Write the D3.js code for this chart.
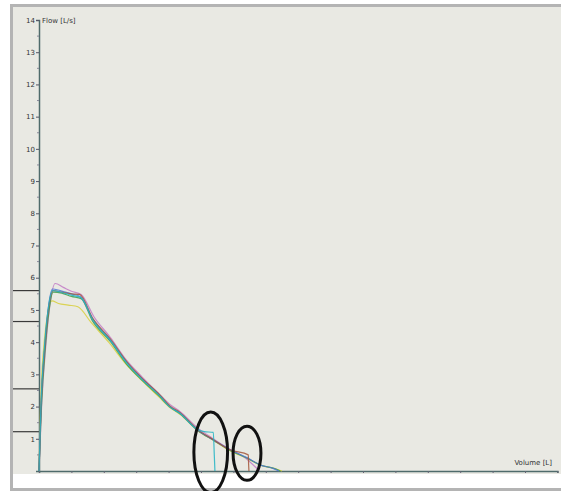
<!DOCTYPE html>
<html>
<head>
<meta charset="utf-8">
<script src="https://cdn.jsdelivr.net/npm/d3@7"></script>
<style>
body { margin: 0; background: #fff; }
svg { display: block; }
</style>
</head>
<body>
<script>
// flow-volume loops, volume [L] / flow [L/s]
var blueVol  = [0, 0.06, 0.19, 0.28, 0.42, 0.65, 1.0, 1.27, 1.67, 2.19, 2.72, 3.21, 3.73, 4.04, 4.35, 4.88, 5.37, 5.9, 6.45, 6.82, 7.22, 7.4];
var blueFlow = [0, 2.0, 4.0, 5.0, 5.65, 5.6, 5.5, 5.42, 4.7, 4.08, 3.36, 2.84, 2.34, 2.0, 1.8, 1.28, 0.97, 0.66, 0.4, 0.19, 0.08, 0];

var greenVol  = [0, 0.07, 0.2, 0.3, 0.44, 0.7, 1.0, 1.3, 1.65, 2.2, 2.7, 3.2, 3.7, 4.05, 4.35, 4.9, 5.4, 5.9, 6.4, 6.85, 7.25, 7.45];
var greenFlow = [0, 1.9, 3.9, 4.9, 5.55, 5.52, 5.42, 5.35, 4.66, 4.02, 3.32, 2.8, 2.33, 1.98, 1.78, 1.26, 0.95, 0.64, 0.41, 0.18, 0.08, 0];

var pinkVol  = [0, 0.08, 0.22, 0.33, 0.5, 0.75, 1.0, 1.3, 1.7, 2.2, 2.7, 3.2, 3.7, 4.05, 4.35, 4.9, 5.35, 5.85, 6.35, 6.8];
var pinkFlow = [0, 2.0, 4.0, 5.1, 5.82, 5.7, 5.58, 5.48, 4.78, 4.15, 3.44, 2.9, 2.4, 2.06, 1.85, 1.33, 1.02, 0.7, 0.42, 0];

var yellowVol  = [0, 0.05, 0.17, 0.27, 0.4, 0.6, 0.9, 1.2, 1.6, 2.15, 2.7, 3.2, 3.7, 4.05, 4.35, 4.9, 5.4, 5.9, 6.4, 6.9, 7.3, 7.5];
var yellowFlow = [0, 2.1, 4.1, 4.9, 5.28, 5.2, 5.15, 5.1, 4.62, 4.0, 3.3, 2.78, 2.3, 1.96, 1.76, 1.25, 0.94, 0.63, 0.4, 0.16, 0.07, 0];

var brownVol  = [0, 0.06, 0.19, 0.29, 0.44, 0.7, 1.0, 1.25, 1.67, 2.2, 2.72, 3.2, 3.73, 4.04, 4.35, 4.88, 5.37, 5.9, 6.46, 6.47, 6.48];
var brownFlow = [0, 1.9, 3.95, 5.0, 5.6, 5.55, 5.5, 5.48, 4.72, 4.1, 3.38, 2.86, 2.36, 2.02, 1.82, 1.3, 0.98, 0.66, 0.5, 0.2, 0];

var cyanVol  = [0, 0.06, 0.18, 0.28, 0.42, 0.68, 1.0, 1.3, 1.67, 2.2, 2.72, 3.2, 3.73, 4.04, 4.35, 4.88, 5.1, 5.38, 5.41, 5.43];
var cyanFlow = [0, 2.0, 4.0, 5.0, 5.6, 5.55, 5.46, 5.38, 4.68, 4.06, 3.34, 2.82, 2.33, 1.99, 1.79, 1.3, 1.22, 1.2, 0.5, 0];

var seriesNames  = ["yellow", "pink", "green", "blue", "brown", "cyan"];
var seriesColors = ["#d8cf3c", "#c27ac6", "#3c9f4a", "#4d74d4", "#a3563a", "#22b4c4"];
var seriesVols   = [yellowVol, pinkVol, greenVol, blueVol, brownVol, cyanVol];
var seriesFlows  = [yellowFlow, pinkFlow, greenFlow, blueFlow, brownFlow, cyanFlow];

var yTicks = [1, 2, 3, 4, 5, 6, 7, 8, 9, 10, 11, 12, 13, 14];
var markerFlows = [5.6, 4.64, 2.55, 1.22];

// ellipse marks [volume center, flow center, volume radius, flow radius]
var ringVol  = [5.3, 6.42];
var ringFlow = [0.58, 0.55];
var ringRv   = [0.52, 0.43];
var ringRf   = [1.25, 0.84];

var W = 561, H = 491;
var svg = d3.select("body")
   .append("svg")
   .attr("width", W)
   .attr("height", H);

// frame
svg.append("rect")
   .attr("x", 11.5).attr("y", 5.5)
   .attr("width", W).attr("height", 484)
   .style("fill", "#ffffff")
   .style("stroke", "#b4b4b4")
   .style("stroke-width", 3);
svg.append("rect")
   .attr("x", 13).attr("y", 7)
   .attr("width", W).attr("height", 467)
   .style("fill", "#e9e9e3");

var x = d3.scaleLinear().domain([0, 16]).range([39, 557.4]);
var y = d3.scaleLinear().domain([0, 14]).range([471, 20]);

// left marker lines
svg.selectAll("line.marker")
   .data(markerFlows)
   .enter()
   .append("line")
   .attr("class", "marker")
   .attr("x1", 13).attr("x2", x(0))
   .attr("y1", function(d) { return y(d) })
   .attr("y2", function(d) { return y(d) })
   .style("stroke", "#3a3a3a")
   .style("stroke-width", 1.2);

// y axis
var yAxis = d3.axisLeft(y)
   .tickValues(yTicks)
   .tickSize(3)
   .tickFormat(d3.format("d"));
var gy = svg.append("g")
   .attr("transform", "translate(" + x(0) + ",0)")
   .call(yAxis);
gy.select(".domain").style("stroke", "#4f6b6b").style("stroke-width", 1.5);
gy.selectAll(".tick line").style("stroke", "#556");
gy.selectAll(".tick text")
   .style("font-family", "DejaVu Sans, sans-serif")
   .style("font-size", "7px")
   .style("fill", "#333")
   .attr("x", -4);

var minorY = d3.range(0.5, 14, 1);
svg.selectAll("line.minory")
   .data(minorY)
   .enter()
   .append("line")
   .attr("x1", x(0) - 2).attr("x2", x(0))
   .attr("y1", function(d) { return y(d) })
   .attr("y2", function(d) { return y(d) })
   .style("stroke", "#889");

// x axis
var xAxis = d3.axisBottom(x)
   .ticks(16)
   .tickSize(2)
   .tickFormat("");
var gx = svg.append("g")
   .attr("transform", "translate(0," + y(0) + ")")
   .call(xAxis);
gx.select(".domain").style("stroke", "#4f6b6b").style("stroke-width", 1.5);
gx.selectAll(".tick line").style("stroke", "#667");

svg.append("text")
   .attr("x", x(0) + 3).attr("y", y(14) + 3)
   .text("Flow [L/s]")
   .style("font-family", "DejaVu Sans, sans-serif")
   .style("font-size", "7px")
   .style("fill", "#333");

svg.append("text")
   .attr("x", 552).attr("y", y(0) - 6)
   .attr("text-anchor", "end")
   .text("Volume [L]")
   .style("font-family", "DejaVu Sans, sans-serif")
   .style("font-size", "7px")
   .style("fill", "#333");

// curves
var line = d3.line()
   .x(function(d) { return x(d[0]) })
   .y(function(d) { return y(d[1]) })
   .curve(d3.curveMonotoneX);

seriesNames.forEach(function(name, i) {
   var pts = seriesVols[i].map(function(v, k) { return [v, seriesFlows[i][k]] });
   svg.append("path")
      .attr("id", "curve_" + name)
      .attr("d", line(pts))
      .style("fill", "none")
      .style("stroke", seriesColors[i])
      .style("stroke-width", 1.2)
      .style("stroke-opacity", 0.85)
      .style("stroke-linejoin", "round");
});

// rings
svg.selectAll("ellipse.ring")
   .data(ringVol)
   .enter()
   .append("ellipse")
   .attr("cx", function(d) { return x(d) })
   .attr("cy", function(d, i) { return y(ringFlow[i]) })
   .attr("rx", function(d, i) { return x(ringRv[i]) - x(0) })
   .attr("ry", function(d, i) { return y(0) - y(ringRf[i]) })
   .style("fill", "none")
   .style("stroke", "#111")
   .style("stroke-width", 3);
</script>
</body>
</html>
